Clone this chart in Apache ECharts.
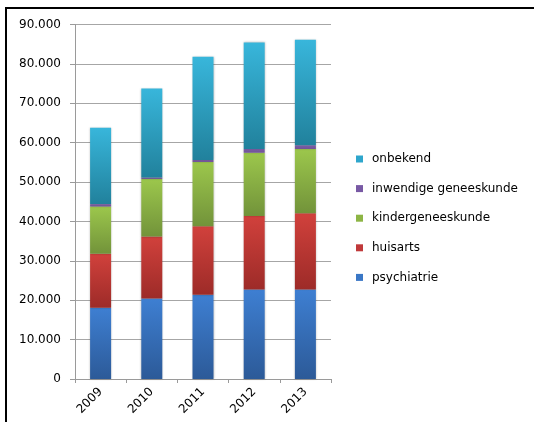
<!DOCTYPE html>
<html>
<head>
<meta charset="utf-8">
<script src="https://cdn.jsdelivr.net/npm/echarts@6/dist/echarts.min.js"></script>
<style>
html,body{margin:0;padding:0;background:#fff;}
#frame{position:absolute;left:5px;top:7px;width:529px;height:415px;border-left:2px solid #000;border-top:2px solid #000;box-sizing:border-box;}
#chart{position:absolute;left:0;top:0;width:534px;height:422px;}
</style>
</head>
<body>
<div id="frame"></div>
<div id="chart"></div>
<script>
const years = ['2009', '2010', '2011', '2012', '2013'];
const psychiatrie = [18100, 20450, 21400, 22750, 22750];
const huisarts = [13700, 15700, 17400, 18650, 19350];
const kindergeneeskunde = [12000, 14650, 16300, 16050, 16300];
const inwendigeGeneeskunde = [600, 350, 500, 950, 950];
const onbekend = [19400, 22600, 26200, 27050, 26750];
const yTicks = ['0', '10.000', '20.000', '30.000', '40.000', '50.000', '60.000', '70.000', '80.000', '90.000'];

const seriesNames = ['psychiatrie', 'huisarts', 'kindergeneeskunde', 'inwendige geneeskunde', 'onbekend'];
const seriesData = [psychiatrie, huisarts, kindergeneeskunde, inwendigeGeneeskunde, onbekend];
const grads = [
  ['#3e7fd2', '#2c5a98'],
  ['#d1413c', '#9d2b28'],
  ['#9cc74c', '#72933a'],
  ['#8064aa', '#6e4f96'],
  ['#38b6db', '#21819c']
];
const legendColors = ['#3a77c6', '#c0393a', '#8db545', '#7859a4', '#2ea6cc'];

const chart = echarts.init(document.getElementById('chart'));
const FONT = 'DejaVu Sans';
chart.setOption({
  animation: false,
  textStyle: {fontFamily: FONT},
  grid: {show: false, borderWidth: 0, left: 75, right: 203, top: 24.5, bottom: 43},
  legend: {
    orient: 'vertical',
    left: 351,
    top: 147,
    itemWidth: 7,
    itemHeight: 7,
    itemGap: 15.6,
    icon: 'rect',
    data: seriesNames.slice().reverse().map((n) => ({name: n, itemStyle: {color: legendColors[seriesNames.indexOf(n)]}})),
    textStyle: {fontFamily: FONT, fontSize: 12, color: '#000', lineHeight: 14, padding: [0, 0, 0, 4]}
  },
  xAxis: {
    type: 'category',
    data: years,
    boundaryGap: true,
    splitLine: {show: false},
    splitArea: {show: false},
    axisLine: {show: true, lineStyle: {color: '#9a9a9a', width: 1}},
    axisTick: {show: true, length: 4, lineStyle: {color: '#9a9a9a'}},
    axisLabel: {rotate: 45, fontFamily: FONT, fontSize: 12, color: '#000', margin: 11}
  },
  yAxis: {
    type: 'value',
    min: 0, max: 90000, interval: 10000,
    axisLine: {show: true, lineStyle: {color: '#9a9a9a', width: 1}},
    axisTick: {show: true, length: 5, lineStyle: {color: '#9a9a9a'}},
    splitLine: {show: true, lineStyle: {color: '#a6a6a6', width: 1}},
    axisLabel: {
      fontFamily: FONT, fontSize: 12, color: '#000', margin: 14,
      formatter: (v) => yTicks[Math.round(v / 10000)]
    }
  },
  series: seriesNames.map((n, i) => ({
    name: n,
    type: 'bar',
    stack: 'total',
    barWidth: 21,
    data: seriesData[i],
    itemStyle: {
      color: new echarts.graphic.LinearGradient(0, 0, 0, 1, [
        {offset: 0, color: grads[i][0]},
        {offset: 1, color: grads[i][1]}
      ]),
      shadowColor: 'rgba(0,0,0,0.25)',
      shadowBlur: 2
    }
  }))
});
</script>
</body>
</html>
